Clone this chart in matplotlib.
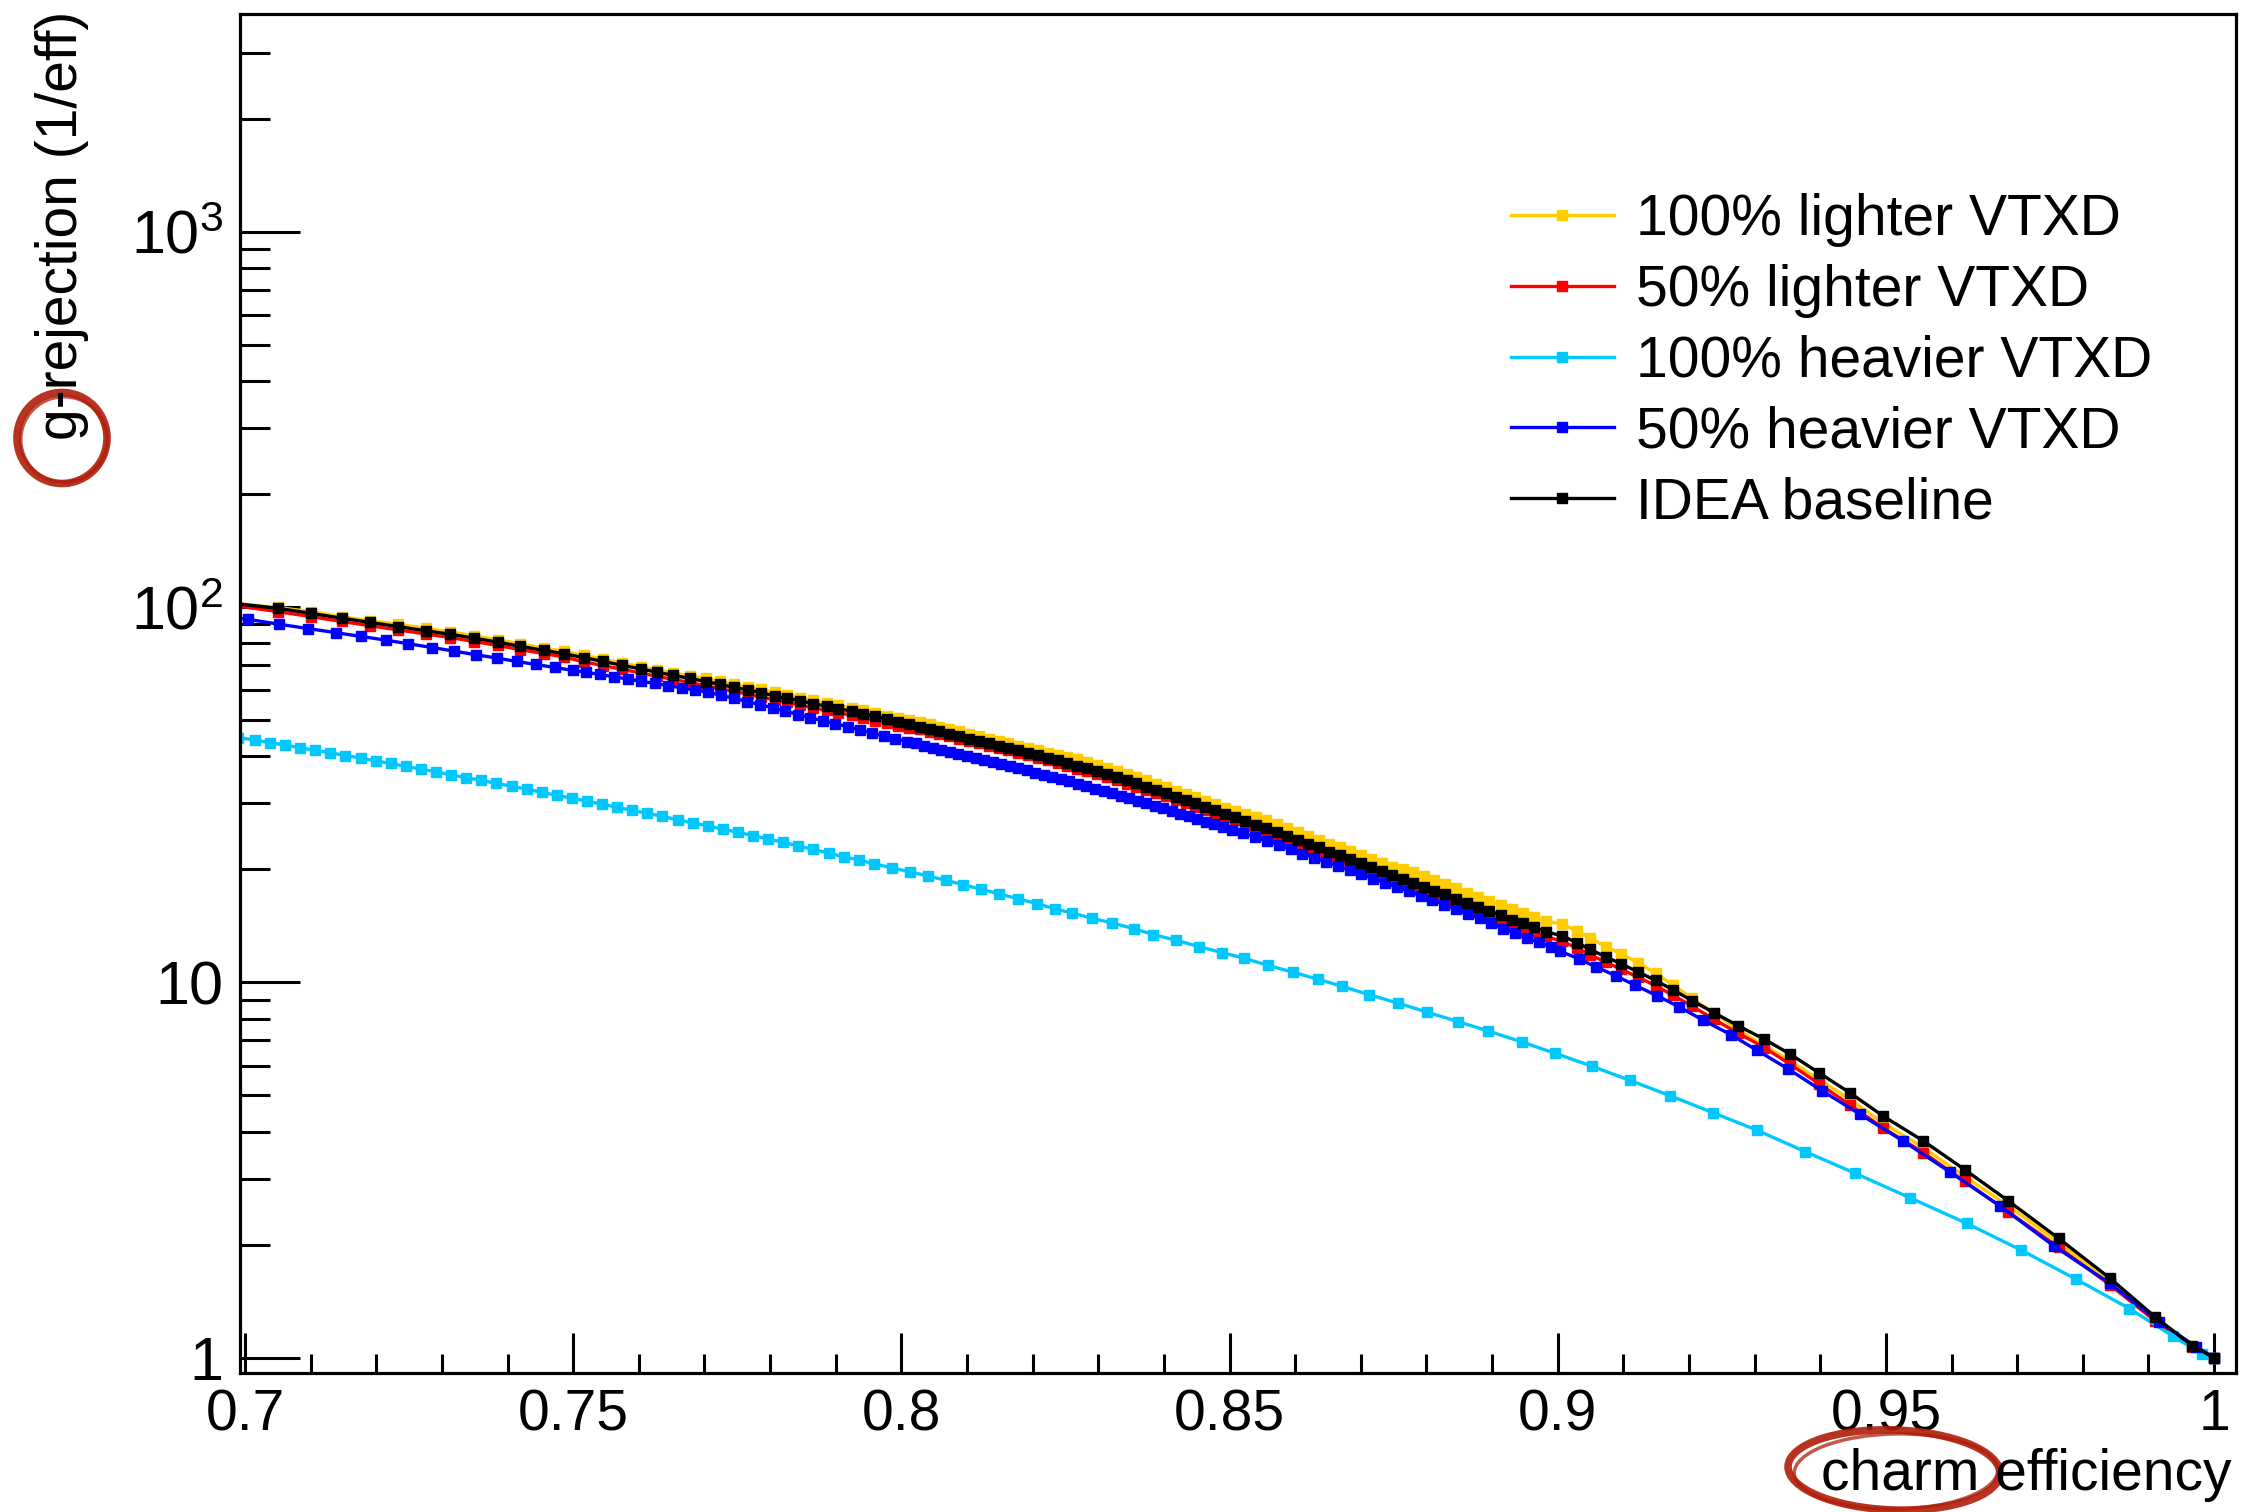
"""

Rejection of gluon jets versus charm efficiency for several VTXD material options
Values read off the ROC curves, drawn on a log scale in ROOT style

"""

# Imports
import matplotlib
matplotlib.use("Agg")
import matplotlib.pyplot as plt
from matplotlib.patches import Ellipse
from matplotlib.ticker import MultipleLocator, LogLocator, NullFormatter

plt.rcParams["font.family"] = ["Liberation Sans", "DejaVu Sans"]
plt.rcParams["mathtext.fontset"] = "custom"
plt.rcParams["mathtext.rm"] = "Liberation Sans"


# Data: charm efficiency points shared by baseline / lighter curves
eff_main = [
    0.6955, 0.7050, 0.7100, 0.7147, 0.7190, 0.7233, 0.7276, 0.7313, 0.7349, 0.7385,
    0.7419, 0.7456, 0.7486, 0.7517, 0.7546, 0.7575, 0.7603, 0.7628, 0.7652, 0.7678,
    0.7702, 0.7723, 0.7745, 0.7766, 0.7786, 0.7807, 0.7826, 0.7846, 0.7866, 0.7886,
    0.7904, 0.7924, 0.7942, 0.7960, 0.7978, 0.7995, 0.8012, 0.8028, 0.8043, 0.8058,
    0.8073, 0.8088, 0.8103, 0.8118, 0.8133, 0.8148, 0.8163, 0.8178, 0.8193, 0.8208,
    0.8223, 0.8238, 0.8253, 0.8268, 0.8283, 0.8298, 0.8313, 0.8328, 0.8343, 0.8358,
    0.8373, 0.8388, 0.8403, 0.8418, 0.8433, 0.8448, 0.8463, 0.8478, 0.8493, 0.8508,
    0.8524, 0.8540, 0.8556, 0.8572, 0.8588, 0.8604, 0.8620, 0.8636, 0.8652, 0.8668,
    0.8684, 0.8700, 0.8716, 0.8732, 0.8748, 0.8764, 0.8780, 0.8796, 0.8812, 0.8828,
    0.8845, 0.8862, 0.8879, 0.8896, 0.8913, 0.8930, 0.8947, 0.8964, 0.8982, 0.9006,
    0.9030, 0.9049, 0.9073, 0.9097, 0.9123, 0.9149, 0.9176, 0.9205, 0.9238, 0.9275,
    0.9315, 0.9354, 0.9398, 0.9445, 0.9496, 0.9557, 0.9620, 0.9686, 0.9763, 0.9841,
    0.9910, 0.9967, 1.0000,
]

idea_baseline = [
    103.5, 99.2, 96.2, 93.4, 91.0, 88.7, 86.4, 84.6, 82.6, 80.6,
    78.6, 76.6, 75.1, 73.2, 71.6, 69.9, 68.4, 67.0, 65.8, 64.5,
    63.3, 62.2, 61.1, 60.1, 59.1, 58.0, 57.1, 56.2, 55.3, 54.4,
    53.6, 52.8, 52.0, 51.1, 50.3, 49.5, 48.7, 48.0, 47.3, 46.6,
    45.9, 45.3, 44.6, 44.0, 43.3, 42.7, 42.1, 41.5, 40.9, 40.3,
    39.7, 39.1, 38.5, 37.8, 37.2, 36.5, 35.9, 35.2, 34.5, 33.9,
    33.2, 32.5, 31.9, 31.2, 30.6, 30.0, 29.3, 28.7, 28.1, 27.5,
    26.9, 26.3, 25.7, 25.1, 24.5, 24.0, 23.4, 22.9, 22.3, 21.8,
    21.3, 20.8, 20.3, 19.8, 19.35, 18.9, 18.45, 18.0, 17.55, 17.15,
    16.7, 16.3, 15.9, 15.5, 15.1, 14.7, 14.35, 14.0, 13.65, 13.3,
    12.75, 12.24, 11.70, 11.19, 10.65, 10.12, 9.54, 8.93, 8.30, 7.66,
    7.05, 6.44, 5.74, 5.08, 4.40, 3.78, 3.17, 2.62, 2.08, 1.63,
    1.285, 1.076, 1.0,
]

lighter_100 = [
    103.5, 99.7, 97.2, 94.3, 91.9, 90.0, 87.7, 85.9, 83.8, 81.8,
    79.8, 77.7, 76.2, 74.3, 72.7, 70.9, 69.4, 68.0, 66.8, 65.5,
    64.6, 63.4, 62.3, 61.3, 60.3, 59.2, 58.2, 57.3, 56.4, 55.5,
    54.7, 53.9, 53.0, 52.1, 51.3, 50.5, 49.9, 49.3, 48.7, 48.0,
    47.3, 46.7, 45.9, 45.3, 44.6, 44.0, 43.4, 42.7, 42.1, 41.5,
    40.9, 40.3, 39.8, 39.3, 38.7, 38.0, 37.3, 36.6, 35.9, 35.3,
    34.5, 33.8, 33.2, 32.4, 31.8, 31.2, 30.5, 29.8, 29.2, 28.6,
    28.1, 27.6, 27.0, 26.4, 25.7, 25.2, 24.6, 24.0, 23.4, 22.9,
    22.4, 21.8, 21.3, 20.8, 20.3, 20.0, 19.65, 19.2, 18.7, 18.3,
    17.8, 17.35, 16.9, 16.5, 16.1, 15.65, 15.3, 14.9, 14.55, 14.3,
    13.7, 13.15, 12.45, 11.9, 11.25, 10.57, 9.83, 9.06, 8.30, 7.47,
    6.77, 6.18, 5.51, 4.88, 4.22, 3.63, 3.04, 2.54, 2.03, 1.60,
    1.272, 1.071, 1.0,
]

lighter_50 = [
    102.5, 97.2, 94.3, 91.5, 89.2, 86.9, 84.7, 82.9, 80.9, 79.0,
    77.0, 75.1, 73.6, 71.4, 69.8, 68.2, 66.7, 65.3, 64.2, 62.9,
    61.7, 60.6, 59.6, 58.6, 57.6, 56.6, 55.7, 54.8, 53.9, 53.0,
    52.3, 51.5, 50.7, 49.8, 49.0, 48.3, 47.7, 47.2, 46.5, 45.9,
    45.2, 44.6, 43.9, 43.3, 42.7, 42.1, 41.5, 40.9, 40.3, 39.7,
    39.1, 38.5, 37.7, 37.0, 36.5, 35.8, 35.2, 34.5, 33.8, 33.2,
    32.5, 31.9, 31.3, 30.6, 30.0, 29.4, 28.7, 28.1, 27.5, 27.0,
    26.1, 25.6, 25.0, 24.4, 23.8, 23.3, 22.7, 22.3, 21.7, 21.2,
    20.7, 20.2, 19.7, 19.2, 18.8, 18.4, 17.9, 17.5, 17.1, 16.7,
    16.2, 15.8, 15.45, 15.05, 14.7, 14.3, 13.95, 13.6, 13.25, 12.87,
    12.34, 11.85, 11.33, 10.83, 10.31, 9.80, 9.23, 8.64, 7.97, 7.32,
    6.70, 6.05, 5.37, 4.72, 4.09, 3.52, 2.95, 2.45, 1.97, 1.565,
    1.253, 1.065, 1.0,
]

# 50% heavier VTXD
eff_heavier_50 = [
    0.6955, 0.7005, 0.7051, 0.7096, 0.7139, 0.7177, 0.7215, 0.7249, 0.7285, 0.7318,
    0.7352, 0.7384, 0.7414, 0.7443, 0.7472, 0.7499,
    0.7520, 0.7541, 0.7562, 0.7583, 0.7604, 0.7624, 0.7645, 0.7665, 0.7685, 0.7705,
    0.7725, 0.7745, 0.7765, 0.7785, 0.7804, 0.7823, 0.7842, 0.7861, 0.7880, 0.7899,
    0.7918, 0.7937, 0.7955, 0.7973, 0.7991,
    0.8009, 0.8022, 0.8035, 0.8048, 0.8061, 0.8074, 0.8087, 0.8100, 0.8113, 0.8126,
    0.8139, 0.8152, 0.8165, 0.8178, 0.8191, 0.8204, 0.8217, 0.8230, 0.8243, 0.8256,
    0.8269, 0.8282, 0.8295, 0.8308, 0.8321, 0.8334, 0.8347, 0.8360, 0.8373, 0.8386,
    0.8399, 0.8412, 0.8425, 0.8438, 0.8451, 0.8464, 0.8477, 0.8490, 0.8503,
    0.8521, 0.8539, 0.8557, 0.8575, 0.8593, 0.8611, 0.8629, 0.8647, 0.8665, 0.8683,
    0.8701, 0.8719, 0.8737, 0.8755, 0.8773, 0.8791, 0.8809, 0.8827, 0.8845, 0.8863,
    0.8881, 0.8899, 0.8917, 0.8935, 0.8953, 0.8971, 0.8989,
    0.9004, 0.9032, 0.9059, 0.9089, 0.9118, 0.9152, 0.9185, 0.9222, 0.9264, 0.9303,
    0.9351, 0.9402, 0.9460, 0.9526, 0.9598, 0.9674, 0.9756, 0.9841, 0.9916, 0.9973,
    1.0000,
]

heavier_50 = [
    94.8, 92.7, 90.0, 87.6, 85.4, 83.5, 81.6, 79.8, 78.0, 76.3,
    74.6, 73.1, 71.6, 70.3, 69.0, 67.8,
    67.0, 66.1, 65.2, 64.3, 63.4, 62.6, 61.7, 60.9, 60.1, 59.3,
    58.2, 57.1, 56.0, 54.9, 53.9, 52.8, 51.7, 50.7, 49.8, 48.9,
    48.0, 47.1, 46.2, 45.3, 44.5,
    43.8, 43.3, 42.7, 42.2, 41.7, 41.2, 40.7, 40.1, 39.6, 39.1,
    38.6, 38.2, 37.7, 37.2, 36.7, 36.2, 35.7, 35.2, 34.8, 34.3,
    33.8, 33.3, 32.8, 32.4, 31.9, 31.4, 30.9, 30.5, 30.0, 29.5,
    29.1, 28.6, 28.1, 27.7, 27.2, 26.8, 26.4, 25.9, 25.5,
    25.0, 24.4, 23.8, 23.2, 22.6, 22.0, 21.5, 20.9, 20.4, 19.9,
    19.4, 18.9, 18.4, 17.9, 17.5, 17.0, 16.6, 16.1, 15.7, 15.2,
    14.8, 14.4, 13.9, 13.5, 13.1, 12.8, 12.44,
    12.1, 11.55, 10.98, 10.4, 9.82, 9.2, 8.6, 7.92, 7.25, 6.6,
    5.88, 5.15, 4.46, 3.78, 3.12, 2.535, 1.984, 1.578, 1.246, 1.069,
    1.0,
]

# 100% heavier VTXD
eff_heavier_100 = [
    0.6990,
    0.7015, 0.7038, 0.7061, 0.7084, 0.7107, 0.7130, 0.7153, 0.7176, 0.7199, 0.7222,
    0.7245, 0.7268, 0.7291, 0.7314, 0.7337, 0.7360, 0.7383, 0.7406, 0.7429, 0.7452,
    0.7475, 0.7498, 0.7521, 0.7544, 0.7567, 0.7590, 0.7613, 0.7636, 0.7659, 0.7682,
    0.7705, 0.7728, 0.7751, 0.7774, 0.7797, 0.7820, 0.7843, 0.7866, 0.7889, 0.7912,
    0.7935, 0.7958,
    0.7985, 0.8013, 0.8041, 0.8068, 0.8094, 0.8122, 0.8149, 0.8178, 0.8207, 0.8234,
    0.8260, 0.8291, 0.8321, 0.8354, 0.8384, 0.8418, 0.8454, 0.8488,
    0.8522, 0.8558, 0.8596, 0.8634, 0.8672, 0.8712, 0.8757, 0.8801, 0.8848, 0.8894,
    0.8945, 0.8996,
    0.9052, 0.9110, 0.9171, 0.9236, 0.9303, 0.9377, 0.9453, 0.9536, 0.9623, 0.9706,
    0.9790, 0.9871, 0.9937, 0.9982, 1.0000,
]

heavier_100 = [
    44.9,
    44.2, 43.5, 42.9, 42.2, 41.5, 40.9, 40.2, 39.6, 38.9, 38.3,
    37.6, 37.0, 36.4, 35.7, 35.1, 34.5, 33.9, 33.3, 32.7, 32.1,
    31.5, 30.95, 30.4, 29.8, 29.3, 28.7, 28.2, 27.7, 27.1, 26.6,
    26.1, 25.6, 25.1, 24.6, 24.1, 23.6, 23.1, 22.6, 22.1, 21.6,
    21.2, 20.7,
    20.2, 19.7, 19.2, 18.7, 18.2, 17.7, 17.2, 16.7, 16.2, 15.7,
    15.3, 14.8, 14.4, 13.9, 13.4, 12.95, 12.45, 12.0,
    11.6, 11.1, 10.65, 10.2, 9.75, 9.28, 8.8, 8.33, 7.86, 7.42,
    6.94, 6.47,
    5.98, 5.48, 4.99, 4.50, 4.04, 3.54, 3.10, 2.67, 2.28, 1.935,
    1.617, 1.352, 1.142, 1.022, 1.0,
]

x_ticks = [0.7, 0.75, 0.8, 0.85, 0.9, 0.95, 1.0]
x_tick_labels = ["0.7", "0.75", "0.8", "0.85", "0.9", "0.95", "1"]
y_ticks = [1, 10, 100, 1000]
y_tick_labels = ["1", "10", r"$\mathregular{10^{2}}$", r"$\mathregular{10^{3}}$"]

curves = [
    (eff_main, lighter_100, "#ffcc00", "100% lighter VTXD"),
    (eff_main, lighter_50, "#ff0000", "50% lighter VTXD"),
    (eff_heavier_100, heavier_100, "#00c8ff", "100% heavier VTXD"),
    (eff_heavier_50, heavier_50, "#0000ff", "50% heavier VTXD"),
    (eff_main, idea_baseline, "#000000", "IDEA baseline"),
]

# Prepare graph
fig = plt.figure(figsize=(22.5, 15.12), dpi=100)
ax = fig.add_axes([0.1067, 0.0919, 0.8871, 0.8988])

for x, y, colour, label in curves:
    ax.plot(x, y, color=colour, lw=2.4, marker="s", ms=6.5,
            mec=colour, mfc=colour, label=label)

# Axes in ROOT style
ax.set_yscale("log")
ax.set_xlim(0.69924, 1.00335)
ax.set_ylim(0.91, 3800)

ax.set_xticks(x_ticks)
ax.set_xticklabels(x_tick_labels)
ax.xaxis.set_minor_locator(MultipleLocator(0.01))
ax.set_yticks(y_ticks)
ax.set_yticklabels(y_tick_labels)
ax.yaxis.set_minor_locator(LogLocator(base=10, subs=(2, 3, 4, 5, 6, 7, 8, 9)))
ax.yaxis.set_minor_formatter(NullFormatter())

ax.tick_params(which="both", direction="in", top=False, right=False, width=2.2)
ax.tick_params(axis="x", which="major", length=29, pad=11, labelsize=41)
ax.tick_params(axis="x", which="minor", length=14)
ax.tick_params(axis="y", which="major", length=43, pad=12, labelsize=44)
ax.tick_params(axis="y", which="minor", length=21.5)
for spine in ax.spines.values():
    spine.set_linewidth(2.3)

# Axis titles, aligned to the axis ends
fig.text(0.9916, 0.0146, "charm efficiency", ha="right", va="baseline", fontsize=41)
fig.text(0.0276, 0.9927, "g-rejection (1/eff)", rotation=90, ha="center", va="top", fontsize=41)

# Legend without a frame
ax.legend(loc="upper left", bbox_to_anchor=(0.6716, 0.8724), bbox_transform=fig.transFigure,
          frameon=False, fontsize=41, handlelength=1.8, handletextpad=0.39,
          labelspacing=0.295, borderpad=0, borderaxespad=0, numpoints=1)

# Red pen marks around "g" and "charm"
pen = "#b01e0a"
for centre, w, h, angle in [((0.62, 10.74), 0.90, 0.91, 0), ((18.94, 0.42), 2.12, 0.80, -2)]:
    fig.add_artist(Ellipse(centre, w, h, angle=angle, transform=fig.dpi_scale_trans,
                           fill=False, ec=pen, lw=5.5, alpha=0.9))
    fig.add_artist(Ellipse((centre[0] + 0.02, centre[1] - 0.015), w * 0.96, h * 0.94, angle=angle + 3,
                           transform=fig.dpi_scale_trans, fill=False, ec=pen, lw=2.5, alpha=0.75))

fig.savefig("out.png", dpi=100)
